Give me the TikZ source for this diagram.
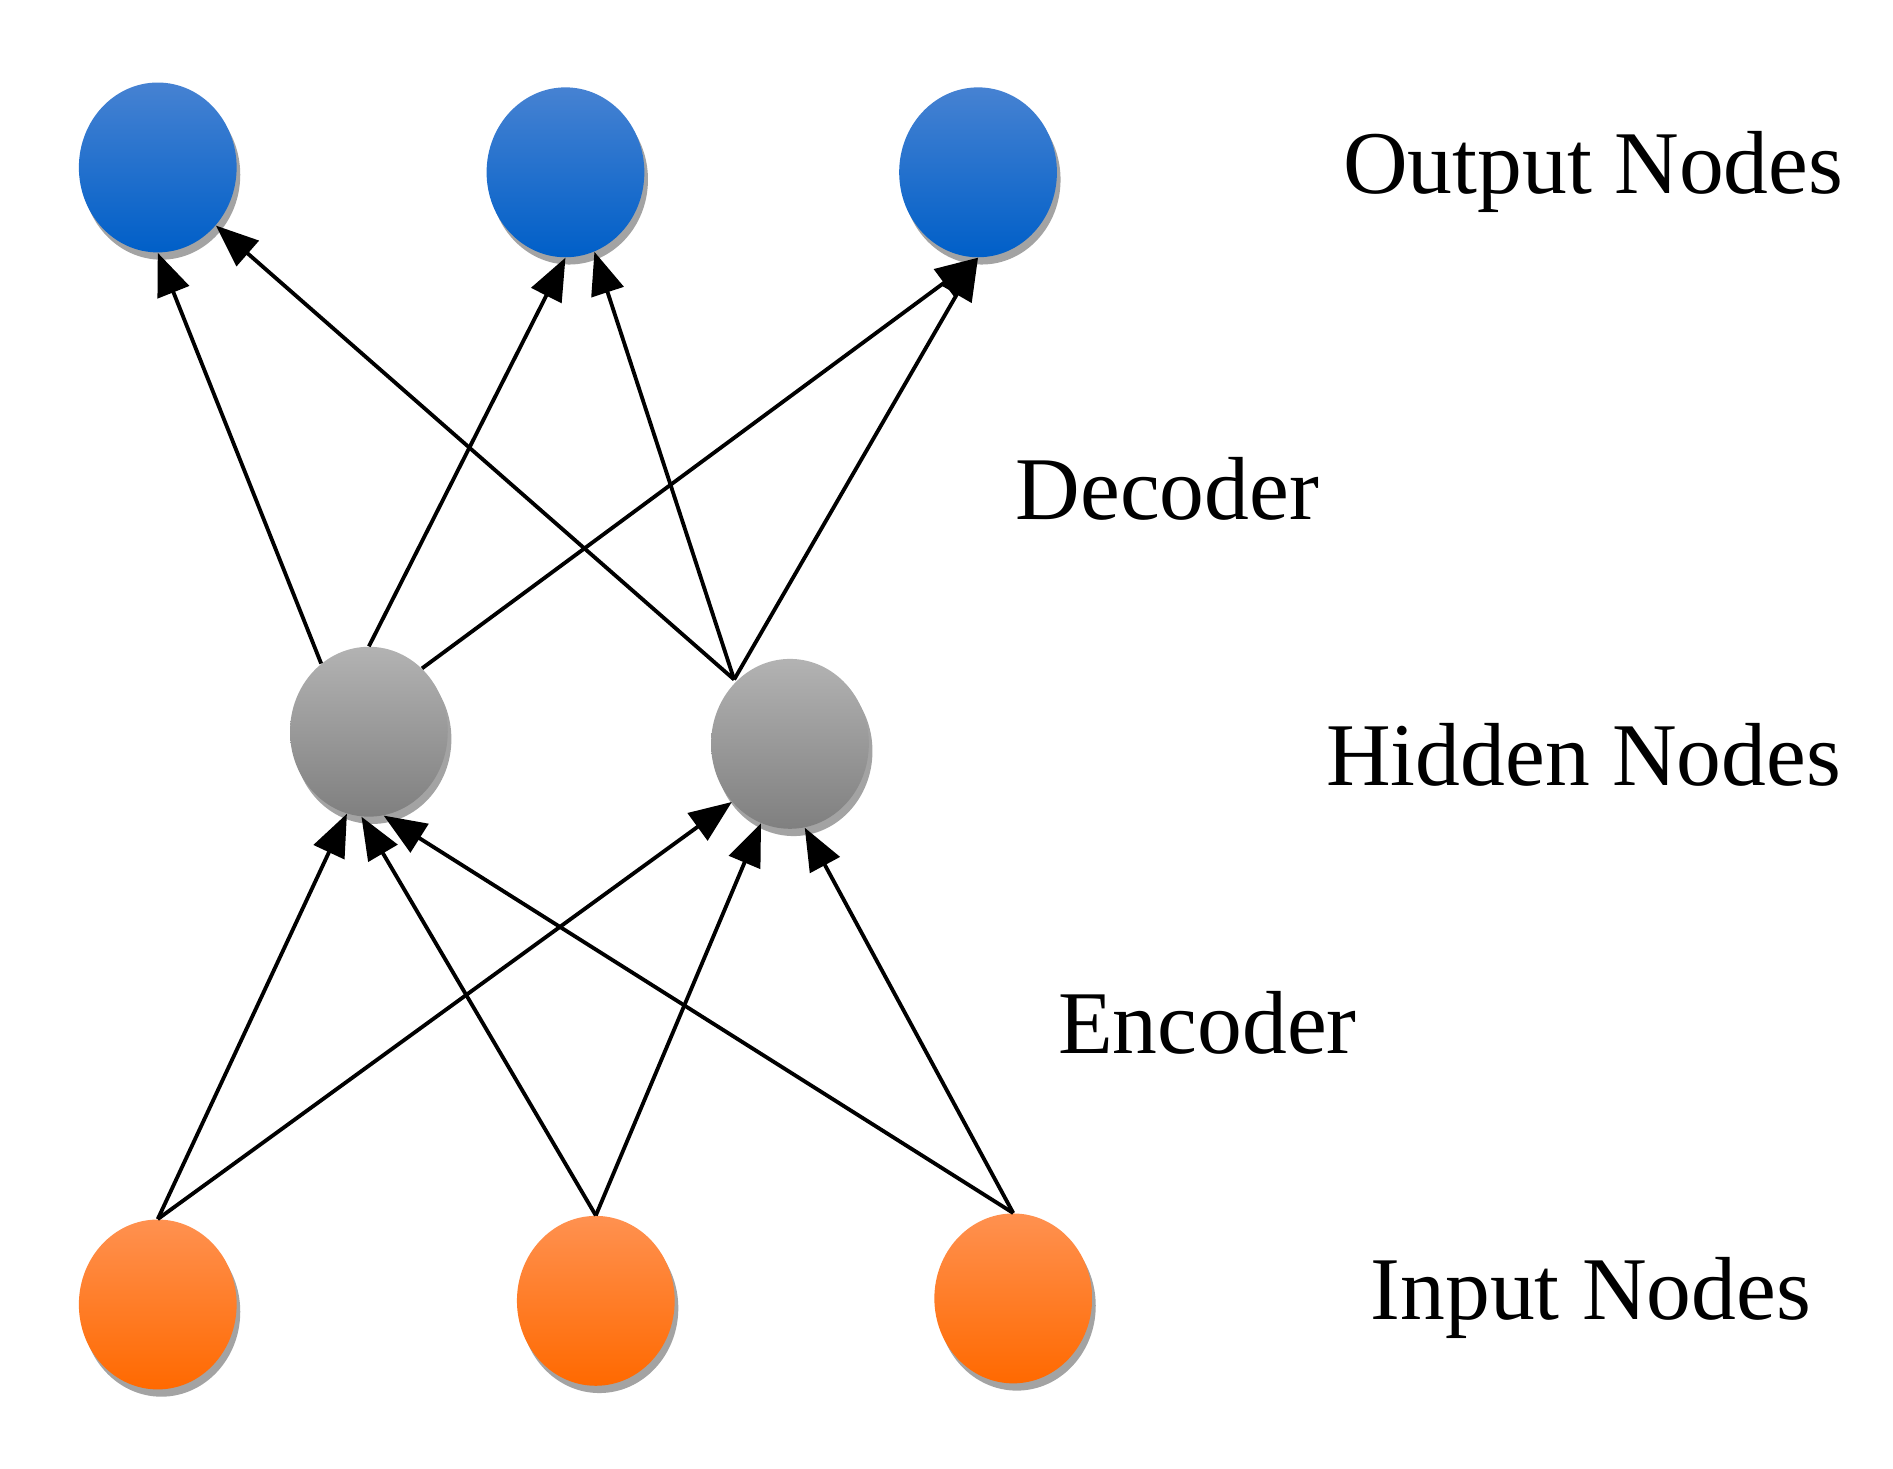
\documentclass[tikz,border=0pt]{standalone}
\usepackage{fontspec}
\setmainfont{Liberation Serif}
\usetikzlibrary{shapes.geometric,shadows,arrows.meta}
\begin{document}
\begin{tikzpicture}[x=0.02cm,y=-0.02cm,
  nd/.style={ellipse,minimum width=130*0.02cm,minimum height=140*0.02cm,inner sep=0pt,draw=none,
    drop shadow={shadow xshift=0.06cm,shadow yshift=-0.12cm,fill=black!45,opacity=0.8}},
  outn/.style={nd,top color={rgb,255:red,70;green,130;blue,210},bottom color={rgb,255:red,0;green,95;blue,200}},
  hidn/.style={nd,top color=black!30,bottom color=black!50},
  inn/.style={nd,top color={rgb,255:red,255;green,145;blue,80},bottom color={rgb,255:red,255;green,105;blue,0}},
  lab/.style={font=\fontsize{42}{48}\selectfont,anchor=center},
  ar/.style={-{Triangle[length=0.7cm,width=0.55cm]},line width=1.8pt}]
\useasboundingbox (0,0) rectangle (1560,1210);
\node[outn] (o1) at (130,138) {};
\node[outn] (o2) at (466,142) {};
\node[outn] (o3) at (806,142) {};
\node[hidn] (h1) at (304,603) {};
\node[hidn] (h2) at (651,613) {};
\node[inn] (i1) at (130,1075) {};
\node[inn] (i2) at (491,1072) {};
\node[inn] (i3) at (835,1070) {};
\coordinate (h2t) at (605,560);
\draw[ar] (h1.125) -- (o1.south);
\draw[ar] (h1.north) -- (o2.south);
\draw[ar] (h1.50) -- (o3.south);
\draw[ar] (h2t) -- (o1.-45);
\draw[ar] (h2t) -- (o2.-70);
\draw[ar] (h2t) -- (o3.south);
\draw[ar] (i1.north) -- (h1.-105);
\draw[ar] (i1.north) -- (h2.-135);
\draw[ar] (i2.north) -- (h1.-95);
\draw[ar] (i2.north) -- (h2.-110);
\draw[ar] (i3.north) -- (h1.-80);
\draw[ar] (i3.north) -- (h2.-80);
\node[lab] (t1) at (1313,142) {Output Nodes};
\node[lab] (t2) at (962,403) {Decoder};
\node[lab] (t3) at (1305,622) {Hidden Nodes};
\node[lab] (t4) at (995,843) {Encoder};
\node[lab] (t5) at (1311,1070) {Input Nodes};
\end{tikzpicture}
\end{document}
